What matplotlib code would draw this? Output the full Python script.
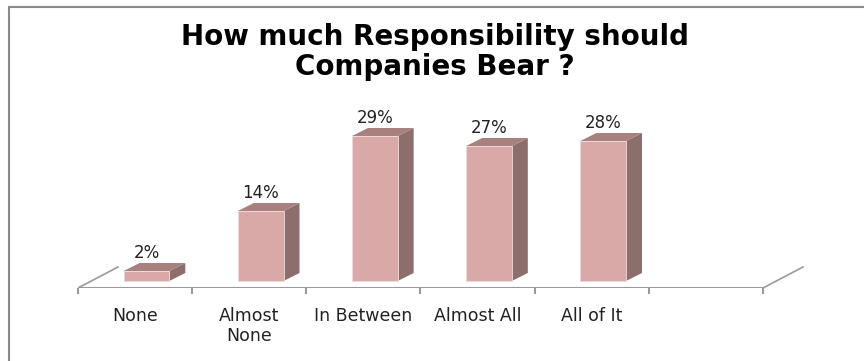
import matplotlib
matplotlib.use("Agg")
import matplotlib.pyplot as plt
from matplotlib.patches import Polygon, Rectangle

categories = ["None", "Almost\nNone", "In Between", "Almost All", "All of It", ""]
values = [2, 14, 29, 27, 28]
value_labels = ["2%", "14%", "29%", "27%", "28%"]
title = "How much Responsibility should\nCompanies Bear ?"

FRONT = "#D9A9A8"
TOP = "#A8817F"
SIDE = "#8C6E6C"
GRID = "#9A9A9A"

fig = plt.figure(figsize=(8.64, 3.61), dpi=100)
ax = fig.add_axes([78 / 864, (361 - 288) / 361, 685 / 864, (288 - 131) / 361])
ax.set_xlim(-0.5, len(categories) - 0.5)
ax.set_ylim(-1.4, 30)
for s in ax.spines.values():
    s.set_visible(False)
ax.set_yticks([])

shift = 0.10
width = 0.40
ddx, ddy = 0.14, 1.6      # bar depth
fdx, fdy = 0.35, 4.2      # floor depth
yf = -1.4

# floor
n = len(categories)
ax.plot([-0.5, n - 0.5], [yf, yf], color=GRID, lw=1.5, solid_capstyle="butt", zorder=1)
ax.plot([-0.5, -0.5 + fdx], [yf, yf + fdy], color=GRID, lw=1.2, zorder=1)
ax.plot([n - 0.5, n - 0.5 + fdx], [yf, yf + fdy], color=GRID, lw=1.2, zorder=1, clip_on=False)

xs = [i + shift for i in range(len(values))]
bars = ax.bar(xs, values, width=width, color=FRONT, edgecolor="#F0DADA", linewidth=0.6, zorder=3)
for b, v, lab in zip(bars, values, value_labels):
    x0 = b.get_x()
    x1 = x0 + b.get_width()
    side = Polygon([(x1, 0), (x1 + ddx, ddy), (x1 + ddx, v + ddy), (x1, v)],
                   closed=True, facecolor=SIDE, edgecolor="none", zorder=2, clip_on=False)
    top = Polygon([(x0, v), (x0 + ddx, v + ddy), (x1 + ddx, v + ddy), (x1, v)],
                  closed=True, facecolor=TOP, edgecolor="none", zorder=2, clip_on=False)
    ax.add_patch(side)
    ax.add_patch(top)
    ax.annotate(lab, (b.get_x() + b.get_width() / 2, v + ddy), xytext=(0, 7),
                textcoords="offset points", ha="center", va="center",
                fontsize=12, color="#222222", family="DejaVu Sans",
                annotation_clip=False)

ax.set_xticks(range(n))
ax.set_xticklabels(categories, fontsize=12.5, color="#222222", family="DejaVu Sans",
                   linespacing=1.1)
ax.tick_params(axis="x", which="major", length=0, pad=14)
ax.set_xticks([i - 0.5 for i in range(n + 1)], minor=True)
ax.tick_params(axis="x", which="minor", length=4, width=1.5, color=GRID)

fig.text(0.503, 1 - 52 / 361, title, ha="center", va="center", fontsize=20,
         fontweight="bold", family="DejaVu Sans", linespacing=1.1, color="black")

fig.add_artist(Rectangle((9 / 864, -0.1), 1.2, 1.1 - 7 / 361, transform=fig.transFigure,
                         fill=False, edgecolor="#8A8A8A", lw=1.5))

fig.savefig("out.png", dpi=100)
